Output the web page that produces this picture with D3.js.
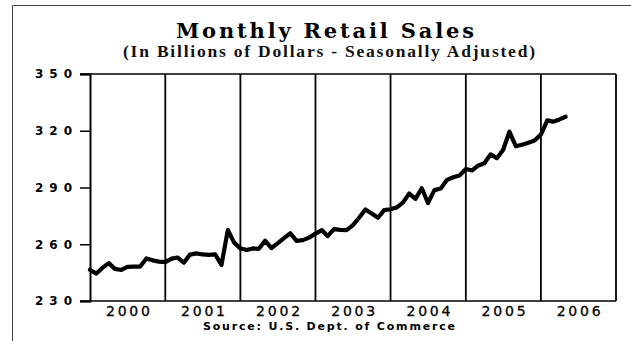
<!DOCTYPE html>
<html>
<head>
<meta charset="utf-8">
<script src="https://cdn.jsdelivr.net/npm/d3@7"></script>
<style>
  html, body { margin: 0; padding: 0; background: #fff; }
  svg { display: block; }
</style>
</head>
<body>
<svg id="chart" width="631" height="341"></svg>
<script>
// Monthly retail sales, billions of dollars, seasonally adjusted.
// First value is December 1999; one value per month through April 2006.
const firstMonth = "1999-12-01";
const salesValues = [
  246.5, 244.5, 247.5, 250.0, 247.0, 246.4, 248.0, 248.2, 248.2, 252.5, 251.5, 250.8,
  250.6, 252.4, 253.0, 250.3, 254.5, 255.2, 254.6, 254.4, 254.6, 249.0, 267.5, 261.0,
  257.8, 257.0, 257.8, 257.6, 261.9, 258.0, 260.5, 263.2, 265.8, 261.8, 262.2, 263.5,
  265.6, 267.5, 264.3, 268.0, 267.6, 267.5, 270.0, 274.0, 278.4, 276.3, 274.0, 278.0,
  278.5, 279.5, 282.0, 286.8, 284.0, 289.6, 281.8, 288.6, 289.5, 294.0, 295.4, 296.3,
  299.8, 299.0, 301.5, 302.8, 307.5, 305.5, 309.8, 319.5, 311.8, 312.6, 313.7, 314.8,
  318.0, 325.5, 324.8, 326.0, 327.4
];
const yearLabels = ["2000", "2001", "2002", "2003", "2004", "2005", "2006"];
const yTicks = [230, 260, 290, 320, 350];

const titleText = "Monthly Retail Sales";
const subtitleText = "(In Billions of Dollars - Seasonally Adjusted)";
const sourceText = "Source: U.S. Dept. of Commerce";

const svg = d3.select("#chart");

const plot = { left: 90, right: 616, top: 74, bottom: 301 };

const parse = d3.timeParse("%Y-%m-%d");
const start = parse(firstMonth);
// each month's value sits at the close of that month
const series = salesValues.map((v, i) => ({
  date: d3.timeMonth.offset(start, i + 1),
  value: v
}));

const years = yearLabels.map(Number);
const x = d3.scaleTime()
  .domain([new Date(years[0], 0, 1), new Date(years[years.length - 1] + 1, 0, 1)])
  .range([plot.left, plot.right]);

const y = d3.scaleLinear()
  .domain([d3.min(yTicks), d3.max(yTicks)])
  .range([plot.bottom, plot.top]);

// outer frame (top and left edges)
svg.append("path")
  .attr("d", "M12.5,341 L12.5,5.5 L631,5.5")
  .attr("fill", "none")
  .attr("stroke", "#444")
  .attr("stroke-width", 1);

// title block
svg.append("text")
  .attr("x", 325).attr("y", 38)
  .attr("text-anchor", "middle")
  .attr("font-family", "'DejaVu Serif', serif")
  .attr("font-weight", "bold")
  .attr("font-size", 21)
  .attr("textLength", 298)
  .attr("lengthAdjust", "spacing")
  .attr("fill", "#000")
  .text(titleText);

svg.append("text")
  .attr("x", 329).attr("y", 57)
  .attr("text-anchor", "middle")
  .attr("font-family", "'Liberation Serif', serif")
  .attr("font-weight", "bold")
  .attr("font-size", 17.5)
  .attr("textLength", 412)
  .attr("lengthAdjust", "spacing")
  .attr("fill", "#111")
  .text(subtitleText);

// year separators
const boundaries = d3.range(years[0] + 1, years[years.length - 1] + 2).map(yr => new Date(yr, 0, 1));
svg.append("g")
  .selectAll("line")
  .data(boundaries)
  .join("line")
  .attr("x1", d => x(d)).attr("x2", d => x(d))
  .attr("y1", plot.top).attr("y2", plot.bottom)
  .attr("stroke", "#000")
  .attr("stroke-width", 1.8);

// top and bottom edges, extending out to the tick marks
[plot.top, plot.bottom].forEach(py => {
  svg.append("line")
    .attr("x1", plot.left - 10).attr("x2", plot.right)
    .attr("y1", py).attr("y2", py)
    .attr("stroke", "#000")
    .attr("stroke-width", 1.5);
});

// y axis
const yAxis = d3.axisLeft(y)
  .tickValues(yTicks)
  .tickSize(10)
  .tickPadding(8)
  .tickFormat(d3.format("d"));

const yg = svg.append("g")
  .attr("transform", `translate(${plot.left},0)`)
  .call(yAxis);
yg.select(".domain").attr("stroke", "#000").attr("stroke-width", 2);
yg.selectAll(".tick line").attr("stroke", "#000").attr("stroke-width", 1.5);
yg.selectAll(".tick text")
  .attr("font-family", "'DejaVu Sans', sans-serif")
  .attr("font-weight", "bold")
  .attr("font-size", 12)
  .attr("fill", "#000")
  .attr("textLength", 37)
  .attr("lengthAdjust", "spacing");

// x axis: year names centred in each year
const midYears = years.map(yr => new Date(yr, 6, 1));
const xAxis = d3.axisBottom(x)
  .tickValues(midYears)
  .tickSize(0)
  .tickPadding(5)
  .tickFormat(d3.timeFormat("%Y"));

const xg = svg.append("g")
  .attr("transform", `translate(0,${plot.bottom})`)
  .call(xAxis);
xg.select(".domain").remove();
xg.selectAll(".tick text")
  .attr("font-family", "'DejaVu Sans', sans-serif")
  .attr("font-size", 14)
  .attr("fill", "#000")
  .attr("stroke", "#000")
  .attr("stroke-width", 0.3)
  .attr("textLength", 44)
  .attr("lengthAdjust", "spacing");

// source note
svg.append("text")
  .attr("x", 329).attr("y", 330)
  .attr("text-anchor", "middle")
  .attr("font-family", "'DejaVu Sans', sans-serif")
  .attr("font-weight", "bold")
  .attr("font-size", 11)
  .attr("textLength", 252)
  .attr("lengthAdjust", "spacing")
  .attr("fill", "#000")
  .text(sourceText);

// sales line
const line = d3.line()
  .x(d => x(d.date))
  .y(d => y(d.value));

svg.append("path")
  .datum(series)
  .attr("fill", "none")
  .attr("stroke", "#000")
  .attr("stroke-width", 4.2)
  .attr("stroke-linejoin", "round")
  .attr("stroke-linecap", "round")
  .attr("d", line);
</script>
</body>
</html>
